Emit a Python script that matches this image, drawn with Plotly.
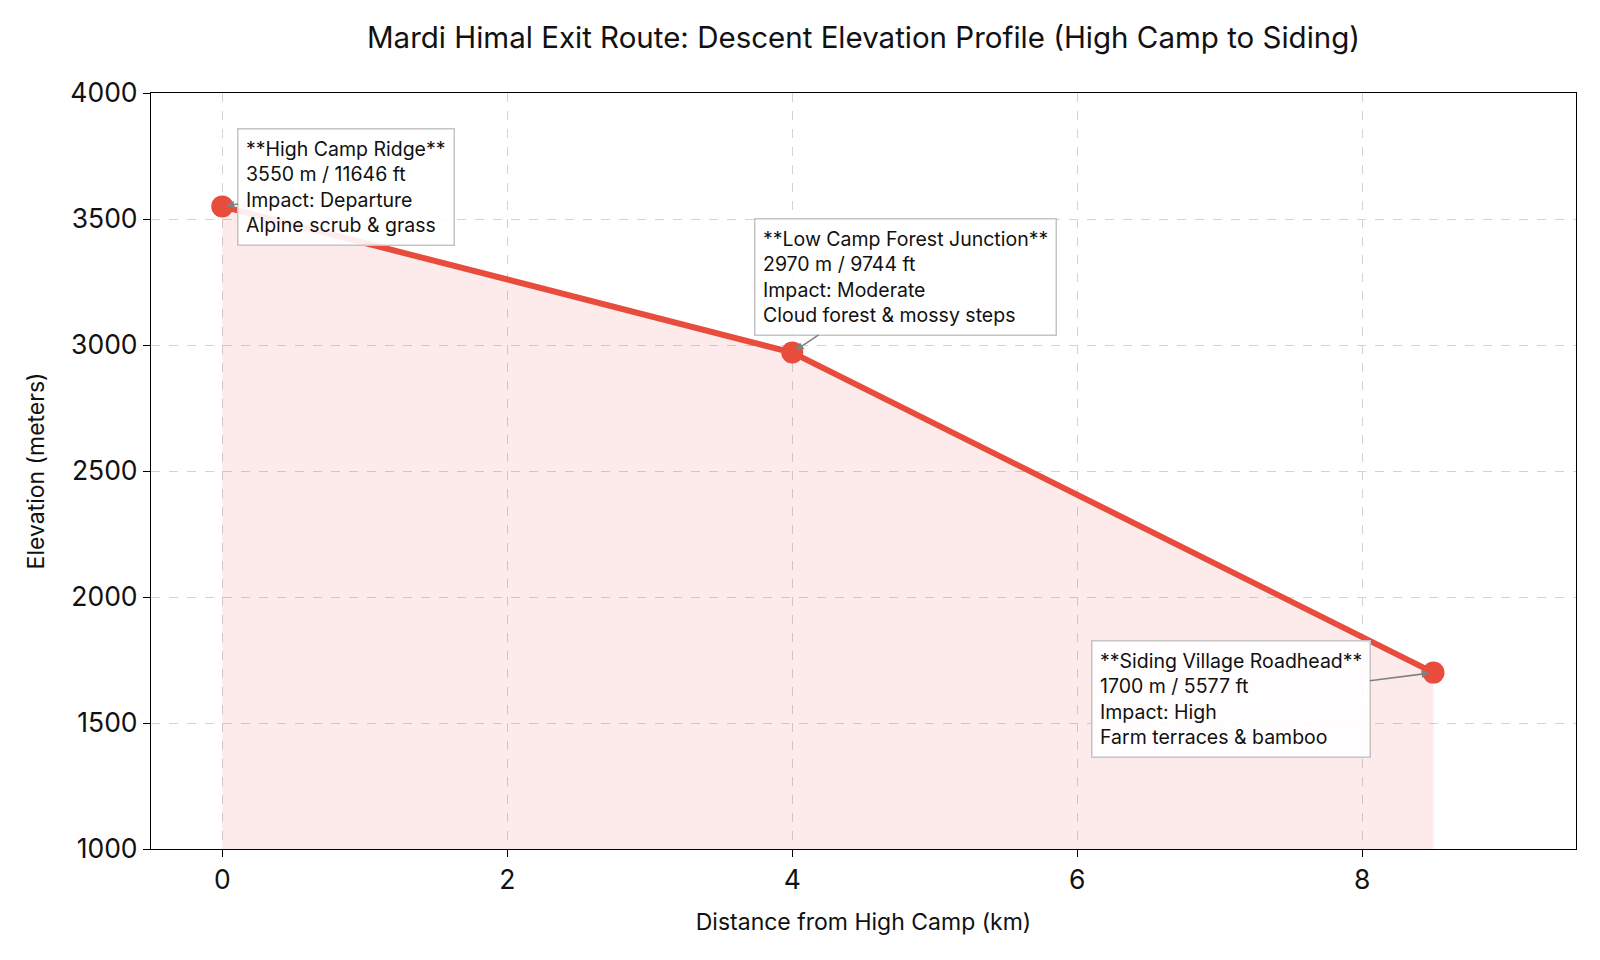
import plotly.graph_objects as go

# ---- data ----
distance_km = [0, 4, 8.5]
elevation_m = [3550, 2970, 1700]
elevation_ft = [11646, 9744, 5577]
stop_names = ["High Camp Ridge", "Low Camp Forest Junction", "Siding Village Roadhead"]
impacts = ["Departure", "Moderate", "High"]
habitats = ["Alpine scrub & grass", "Cloud forest & mossy steps", "Farm terraces & bamboo"]

y_ticks = [1000, 1500, 2000, 2500, 3000, 3500, 4000]
x_ticks = [0, 2, 4, 6, 8]

# annotation box offsets (pixels) relative to each point
label_ax = [124, 113, -203]
label_ay = [-19, -76, 26]

RED = "#E74C3C"
FONT = "Inter"

fig = go.Figure()
fig.add_trace(go.Scatter(
    x=distance_km, y=elevation_m,
    mode="lines+markers",
    line=dict(color=RED, width=6),
    marker=dict(color=RED, size=22),
    fill="tozeroy",
    fillcolor="rgba(231,76,60,0.11)",
    showlegend=False,
))

for i in range(len(distance_km)):
    txt = (f"**{stop_names[i]}**<br>{elevation_m[i]} m / {elevation_ft[i]} ft"
           f"<br>Impact: {impacts[i]}<br>{habitats[i]}")
    fig.add_annotation(
        x=distance_km[i], y=elevation_m[i], xref="x", yref="y",
        text=txt, align="left",
        showarrow=True, ax=label_ax[i], ay=label_ay[i],
        arrowcolor="#808080", arrowwidth=1.6, arrowhead=2, arrowsize=1,
        standoff=4,
        bgcolor="rgba(255,255,255,0.9)", bordercolor="#c4c4c4",
        borderwidth=1.5, borderpad=7.5,
        font=dict(family=FONT, size=19.5, color="#111111"),
    )

axis_common = dict(
    showline=True, linecolor="black", linewidth=1.2, mirror=True,
    ticks="outside", ticklen=7, tickcolor="black", tickwidth=1.2,
    showgrid=True, gridcolor="#d3d3d3", griddash="dash", gridwidth=1,
    zeroline=False,
    tickfont=dict(family=FONT, size=26.5, color="#111111"),
)

fig.update_xaxes(
    range=[-0.5, 9.5], tickvals=x_ticks,
    title=dict(text="Distance from High Camp (km)", standoff=19,
               font=dict(family=FONT, size=23, color="#111111")),
    **axis_common,
)
fig.update_yaxes(
    range=[1000, 4000], tickvals=y_ticks,
    title=dict(text="Elevation (meters)", standoff=19,
               font=dict(family=FONT, size=23, color="#111111")),
    **axis_common,
)

fig.update_layout(
    width=1600, height=960,
    margin=dict(l=151, r=24, t=93, b=111),
    paper_bgcolor="white", plot_bgcolor="white",
    title=dict(text="Mardi Himal Exit Route: Descent Elevation Profile (High Camp to Siding)",
               x=0.5, xref="paper", xanchor="center",
               y=1 - 38 / 960, yref="container", yanchor="middle",
               font=dict(family=FONT, size=29.5, color="#111111")),
    font=dict(family=FONT, color="#111111"),
)

fig.write_html("out.html")
